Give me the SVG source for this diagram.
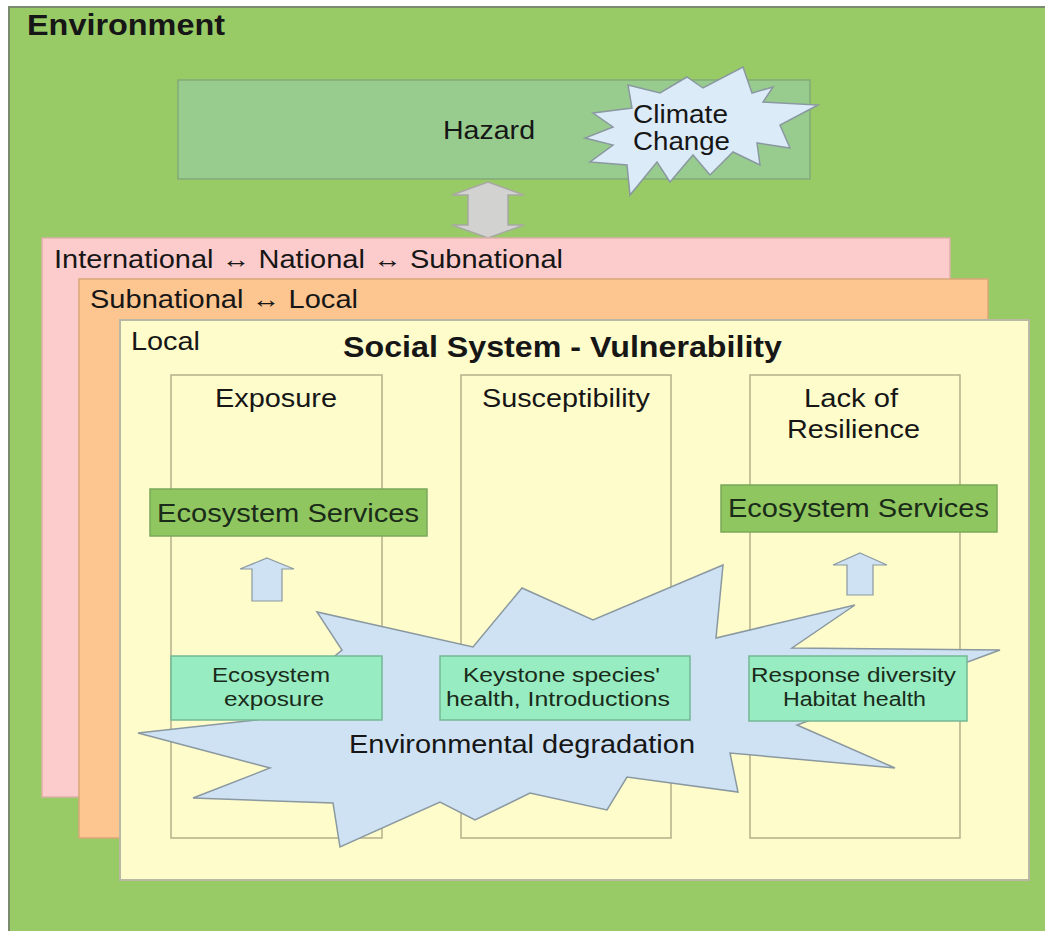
<svg xmlns="http://www.w3.org/2000/svg" width="1045" height="931" viewBox="0 0 1045 931">
<style>
text{font-family:"Liberation Sans",Arial,sans-serif;fill:#161616}
.b{font-weight:bold}
.col{fill:none;stroke:#b5ae8a;stroke-width:1.5}
.es{fill:#8fc65f;stroke:#7aa85a;stroke-width:1.5}
.teal{fill:#97ecc2;stroke:#74b894;stroke-width:1.5}
.star{fill:#cfe2f3;stroke:#8a98a0;stroke-width:1.5;stroke-linejoin:miter}
.cstar{fill:#dcebf8;stroke:#8a98a0;stroke-width:1.5}
.up{fill:#cfe2f3;stroke:#8a98a0;stroke-width:1.2}
.dg{fill:#1a2b1a}
</style>
<rect x="0" y="0" width="1045" height="931" fill="#ffffff"/>
<g id="environment">
<rect x="9" y="7" width="1040" height="930" fill="#98ca66" stroke="#7c8a70" stroke-width="2"/>
<text class="b" x="27" y="35" font-size="29" textLength="198" lengthAdjust="spacingAndGlyphs">Environment</text>
</g>
<g id="hazard">
<rect x="178" y="80" width="632" height="99" fill="#98cc8f" stroke="#82aa78" stroke-width="1.5"/>
<text x="443" y="139" font-size="25" textLength="92" lengthAdjust="spacingAndGlyphs">Hazard</text>
</g>
<g id="climate-change">
<polygon class="cstar" points="743,67 752,93 773,87 763,102 818,105 780,125 790,148 757,143 760,165 733,152 710,175 693,155 670,182 657,162 630,195 627,165 590,162 613,145 585,138 613,127 593,113 632,108 628,85 660,93 687,77 703,88"/>
<text x="633" y="123" font-size="25" textLength="95" lengthAdjust="spacingAndGlyphs">Climate</text>
<text x="633" y="150" font-size="25" textLength="97" lengthAdjust="spacingAndGlyphs">Change</text>
</g>
<g id="connectors">
<polygon points="488,182 524,195 508,195 508,225 524,225 488,238 452,225 468,225 468,195 452,195" fill="#d2d2d0" stroke="#a8a8a4" stroke-width="1.5"/>
</g>
<g id="international">
<rect x="42" y="238" width="908" height="559" fill="#fccccc" stroke="#dcb0a8" stroke-width="1.5"/>
<text x="54" y="268" font-size="25" textLength="509" lengthAdjust="spacingAndGlyphs">International ↔ National ↔ Subnational</text>
</g>
<g id="subnational">
<rect x="79" y="279" width="909" height="559" fill="#fdc590" stroke="#d8a878" stroke-width="1.5"/>
<text x="90" y="308" font-size="25" textLength="268" lengthAdjust="spacingAndGlyphs">Subnational ↔ Local</text>
</g>
<g id="local">
<rect x="120" y="320" width="909" height="560" fill="#fefccb" stroke="#b8b8a4" stroke-width="2"/>
<text x="131" y="350" font-size="25" textLength="69" lengthAdjust="spacingAndGlyphs">Local</text>
<text class="b" x="343" y="357" font-size="30" textLength="439" lengthAdjust="spacingAndGlyphs">Social System - Vulnerability</text>
</g>
<g id="exposure">
<rect class="col" x="171" y="375" width="211" height="463"/>
<text x="215" y="407" font-size="25" textLength="122" lengthAdjust="spacingAndGlyphs">Exposure</text>
</g>
<g id="susceptibility">
<rect class="col" x="461" y="375" width="210" height="463"/>
<text x="482" y="407" font-size="25" textLength="168" lengthAdjust="spacingAndGlyphs">Susceptibility</text>
</g>
<g id="lack-of-resilience">
<rect class="col" x="750" y="375" width="210" height="463"/>
<text x="804" y="407" font-size="25" textLength="94" lengthAdjust="spacingAndGlyphs">Lack of</text>
<text x="787" y="438" font-size="25" textLength="133" lengthAdjust="spacingAndGlyphs">Resilience</text>
</g>
<g id="ecosystem-services-left">
<rect class="es" x="150" y="489" width="277" height="47"/>
<text class="dg" x="157" y="522" font-size="26" textLength="262" lengthAdjust="spacingAndGlyphs">Ecosystem Services</text>
</g>
<g id="ecosystem-services-right">
<rect class="es" x="721" y="485" width="276" height="47"/>
<text class="dg" x="728" y="517" font-size="26" textLength="261" lengthAdjust="spacingAndGlyphs">Ecosystem Services</text>
</g>
<g id="arrows-up">
<polygon class="up" points="267,558 294,569 282,569 282,601 252,601 252,569 240,569"/>
<polygon class="up" points="860,553 887,565 873,565 873,595 847,595 847,565 833,565"/>
</g>
<g id="environmental-degradation">
<polygon class="star" points="723,565 716,638 855,605 792,648 1000,650 797,725 895,768 730,753 738,792 627,777 607,810 530,793 475,820 440,802 340,847 333,803 193,798 270,768 138,733 257,720 342,650 317,612 473,647 522,588 593,620"/>
</g>
<g id="ecosystem-exposure">
<rect class="teal" x="171" y="656" width="211" height="64"/>
<text class="dg" x="212" y="682" font-size="20" textLength="118" lengthAdjust="spacingAndGlyphs">Ecosystem</text>
<text class="dg" x="224" y="706" font-size="20" textLength="100" lengthAdjust="spacingAndGlyphs">exposure</text>
</g>
<g id="keystone">
<rect class="teal" x="440" y="656" width="250" height="64"/>
<text class="dg" x="463" y="682" font-size="20" textLength="197" lengthAdjust="spacingAndGlyphs">Keystone species'</text>
<text class="dg" x="446" y="706" font-size="20" textLength="224" lengthAdjust="spacingAndGlyphs">health,  Introductions</text>
</g>
<g id="response-diversity">
<rect class="teal" x="749" y="656" width="218" height="65"/>
<text class="dg" x="751" y="682" font-size="20" textLength="205" lengthAdjust="spacingAndGlyphs">Response diversity</text>
<text class="dg" x="783" y="706" font-size="20" textLength="143" lengthAdjust="spacingAndGlyphs">Habitat health</text>
</g>
<g id="environmental-degradation-label">
<text x="349" y="753" font-size="25" textLength="346" lengthAdjust="spacingAndGlyphs">Environmental degradation</text>
</g>
</svg>
